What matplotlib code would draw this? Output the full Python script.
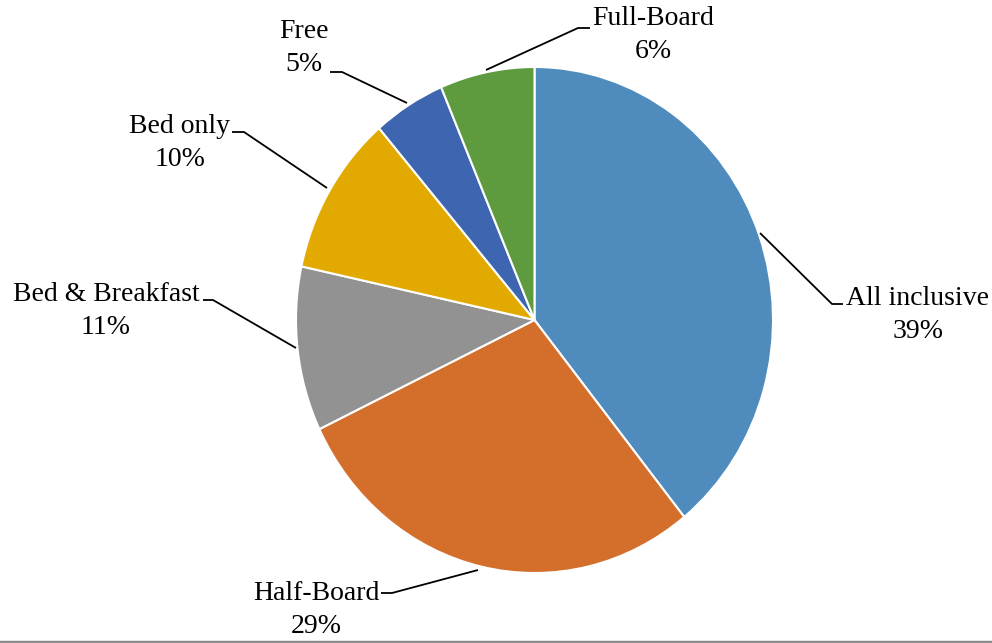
import matplotlib.pyplot as plt
from matplotlib.lines import Line2D

# data
labels = ["All inclusive", "Half-Board", "Bed & Breakfast", "Bed only", "Free", "Full-Board"]
shares = [39.2, 28.7, 10.5, 10.3, 4.9, 6.4]   # slice sizes
pct_text = ["39%", "29%", "11%", "10%", "5%", "6%"]
colors = ["#4F8BBD", "#D46E2B", "#929292", "#E2A900", "#3E65B0", "#5E9B3F"]

W, H = 992, 643
CX, CY = 534.5, 320.0      # pie centre in pixels
RX, RY = 238.5, 253.0      # pie is a bit taller than wide


def px(x, y):
    """Pixel position (origin top-left) to data coords."""
    return (x - CX) / RX, (CY - y) / RY


# label text position (pixels) and leader line points (pixels)
label_pos = [(918, 315), (316, 610), (106, 311), (180, 143), (304, 48), (653, 35)]
leaders = [
    [(760, 233), (832, 304), (843, 304)],
    [(478, 570), (392, 593), (381, 593)],
    [(296, 348), (213, 300), (203, 300)],
    [(327, 188), (244, 132), (232, 132)],
    [(407, 103), (342, 72), (330, 72)],
    [(486, 70), (578, 28), (590, 28)],
]

plt.rcParams["font.family"] = ["Liberation Serif", "DejaVu Serif"]

fig = plt.figure(figsize=(W / 100, H / 100), dpi=100)
ax = fig.add_axes([0, 0, 1, 1])
ax.pie(shares, colors=colors, startangle=90, counterclock=False,
       radius=1.0, center=(0, 0),
       wedgeprops=dict(edgecolor="white", linewidth=1.5))
ax.set_aspect("auto")
x0, _ = px(0, 0)
x1, _ = px(W, 0)
_, y0 = px(0, H)
_, y1 = px(0, 0)
ax.set_xlim(x0, x1)
ax.set_ylim(y0, y1)
ax.axis("off")

for lab, pct, (tx, ty), pts in zip(labels, pct_text, label_pos, leaders):
    xs, ys = zip(*[px(a, b) for a, b in pts])
    ax.plot(xs, ys, color="black", lw=1.3, solid_capstyle="butt")
    x, y = px(tx, ty)
    ax.text(x, y, f"{lab}\n{pct}", ha="center", va="center",
            multialignment="center", fontsize=20, linespacing=1.4)

fig.add_artist(Line2D([0, 1], [1.5 / H, 1.5 / H], color="#8c8c8c", lw=2.5,
                      transform=fig.transFigure))

fig.savefig("out.png", dpi=100)
